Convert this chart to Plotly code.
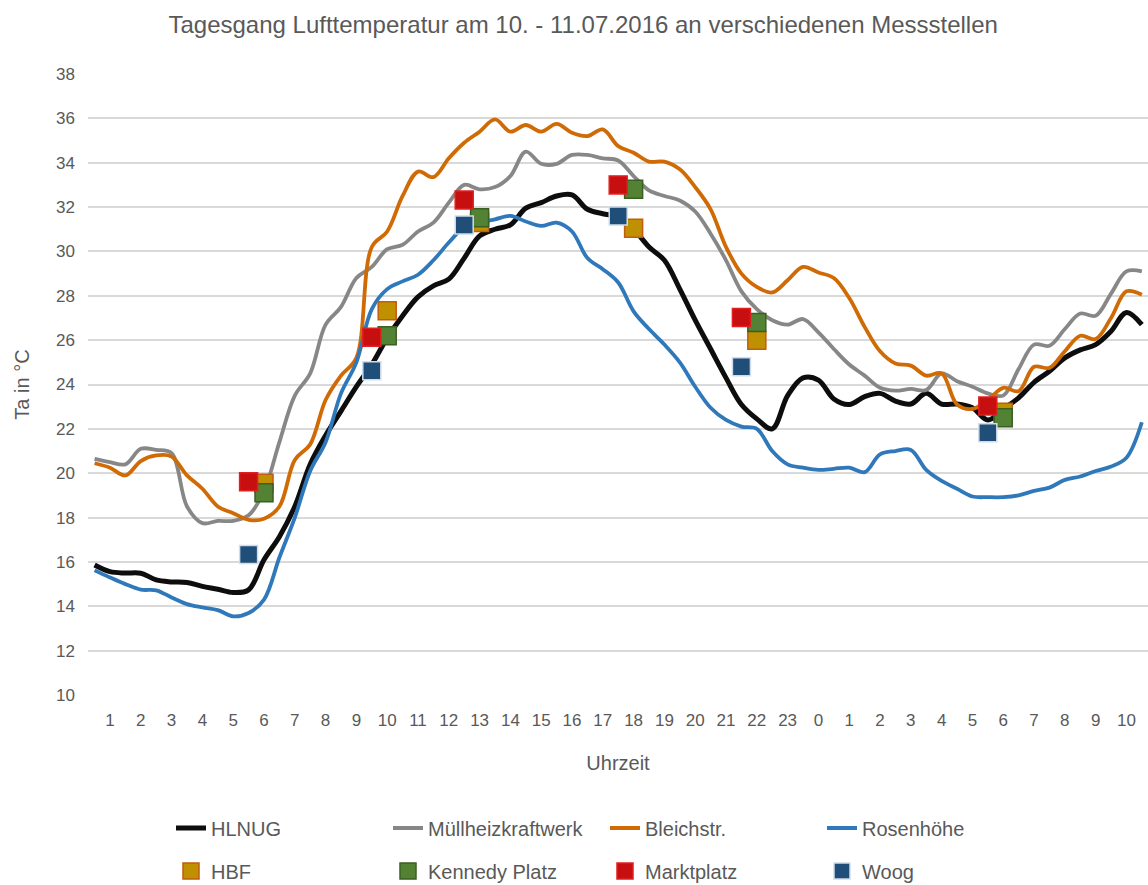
import plotly.graph_objects as go

# time axis: hours since 10.07.2016 00:00 (half-hour samples)
hours = [i / 2 for i in range(1, 70)]

hlnug = [15.86, 15.56, 15.5, 15.49, 15.19, 15.1, 15.07, 14.9, 14.77, 14.62, 14.74, 16.1,
         17.14, 18.5, 20.4, 21.7, 22.8, 23.9, 24.9, 26.1, 27.1, 27.95, 28.45, 28.75,
         29.7, 30.7, 31.0, 31.2, 31.95, 32.2, 32.5, 32.55, 31.9, 31.7, 31.55, 31.0,
         30.2, 29.6, 28.3, 26.9, 25.6, 24.3, 23.1, 22.45, 22.0, 23.5, 24.3, 24.2,
         23.35, 23.1, 23.45, 23.6, 23.25, 23.12, 23.6, 23.12, 23.12, 22.95, 22.4, 22.9,
         23.4, 24.1, 24.6, 25.2, 25.56, 25.8, 26.4, 27.25, 26.7]
muell = [20.65, 20.5, 20.4, 21.1, 21.05, 20.9, 18.5, 17.75, 17.85, 17.85, 18.1, 19.2,
         21.4, 23.5, 24.5, 26.7, 27.5, 28.8, 29.3, 30.1, 30.3, 30.9, 31.3, 32.2,
         33.0, 32.8, 32.9, 33.4, 34.5, 33.95, 33.95, 34.35, 34.35, 34.2, 34.1, 33.4,
         32.75, 32.5, 32.3, 31.8, 30.8, 29.6, 28.2, 27.4, 26.9, 26.7, 26.95, 26.35,
         25.6, 24.9, 24.4, 23.85, 23.72, 23.8, 23.75, 24.5, 24.15, 23.9, 23.6, 23.5,
         24.7, 25.8, 25.75, 26.5, 27.2, 27.1, 28.1, 29.1, 29.1]
bleich = [20.45, 20.25, 19.9, 20.55, 20.8, 20.75, 19.9, 19.3, 18.5, 18.2, 17.9, 17.95,
          18.5, 20.6, 21.3, 23.3, 24.4, 25.2, 30.2, 30.9, 32.5, 33.6, 33.35, 34.2,
          34.9, 35.4, 35.95, 35.4, 35.7, 35.4, 35.75, 35.35, 35.2, 35.5, 34.75, 34.45,
          34.05, 34.05, 33.7, 32.9, 31.9, 30.2, 29.0, 28.4, 28.15, 28.7, 29.3, 29.05,
          28.8, 27.9, 26.6, 25.5, 24.95, 24.85, 24.4, 24.5, 23.1, 22.9, 23.3, 23.85,
          23.7, 24.8, 24.75, 25.5, 26.2, 26.05, 27.0, 28.2, 28.05]
rosen = [15.62, 15.3, 15.0, 14.75, 14.72, 14.4, 14.1, 13.95, 13.83, 13.55, 13.7, 14.3,
         16.2, 18.0, 20.1, 21.4, 23.6, 25.0, 27.4, 28.3, 28.65, 28.95, 29.6, 30.4,
         31.1, 31.3, 31.45, 31.6, 31.35, 31.15, 31.3, 30.9, 29.7, 29.2, 28.6, 27.3,
         26.5, 25.8, 25.0, 23.9, 22.95, 22.4, 22.1, 22.0, 21.0, 20.4, 20.25, 20.15,
         20.2, 20.25, 20.05, 20.85, 21.0, 21.05, 20.15, 19.65, 19.3, 18.95, 18.92, 18.92,
         19.0, 19.2, 19.35, 19.7, 19.85, 20.1, 20.3, 20.7, 22.3]

# point measurements
t_a = [5.5, 9.5, 12.5, 17.5, 21.5, 29.5]   # Marktplatz, Woog
t_b = [6, 10, 13, 18, 22, 30]              # HBF, Kennedy Platz
hbf = [19.55, 27.33, 31.3, 31.04, 26.0, 22.75]
kennedy = [19.12, 26.2, 31.52, 32.8, 26.8, 22.5]
markt = [19.62, 26.13, 32.32, 33.0, 27.02, 23.03]
woog = [16.34, 24.62, 31.19, 31.6, 24.8, 21.83]

tick_vals = list(range(1, 35))
tick_text = [str(h % 24) for h in tick_vals]

FONT = "Liberation Sans, Arial, sans-serif"
TXT = "#595959"

fig = go.Figure()
lines = [("HLNUG", hlnug, "#0d0d0d", 5),
         ("Müllheizkraftwerk", muell, "#878787", 3.8),
         ("Bleichstr.", bleich, "#d06a05", 3.8),
         ("Rosenhöhe", rosen, "#2f78b9", 3.8)]
for name, vals, col, w in lines:
    fig.add_trace(go.Scatter(x=hours, y=vals, name=name, mode="lines",
                             line=dict(color=col, width=w, shape="spline", smoothing=1.0),
                             legend="legend"))

pts = [("HBF", t_b, hbf, "#bf9000", "#c55a11"),
       ("Kennedy Platz", t_b, kennedy, "#548235", "#3a5f23"),
       ("Marktplatz", t_a, markt, "#c80f0f", "#e02020"),
       ("Woog", t_a, woog, "#1f4e79", "#d0dcea")]
for name, tx, vals, fill, edge in pts:
    fig.add_trace(go.Scatter(x=tx, y=vals, name=name, mode="markers",
                             marker=dict(symbol="square", size=18, color=fill,
                                         line=dict(color=edge, width=1.5)),
                             legend="legend2"))

fig.update_layout(
    width=1148, height=885,
    paper_bgcolor="white", plot_bgcolor="white",
    margin=dict(l=88, r=0, t=74, b=190, autoexpand=False),
    font=dict(family=FONT, color=TXT, size=18),
    title=dict(text="Tagesgang Lufttemperatur am 10. - 11.07.2016 an verschiedenen Messstellen",
               x=0.508, xanchor="center", y=1 - 25 / 885, yanchor="middle",
               font=dict(size=24, color=TXT)),
    xaxis=dict(range=[0.286, 34.70], tickmode="array", tickvals=tick_vals, ticktext=tick_text,
               showgrid=False, zeroline=False, showline=False, ticks="", tickangle=0,
               tickfont=dict(size=17, color=TXT), ticklabelstandoff=13,
               title=dict(text="Uhrzeit", font=dict(size=20, color=TXT), standoff=26)),
    yaxis=dict(range=[10, 38], dtick=2, showgrid=True, gridcolor="#d9d9d9", gridwidth=1.5,
               zeroline=False, showline=False, ticks="",
               tickfont=dict(size=17, color=TXT), ticklabelstandoff=12,
               title=dict(text="Ta in °C", font=dict(size=20, color=TXT), standoff=21)),
    legend=dict(orientation="h", xref="paper", x=(171 - 88) / 1060, xanchor="left",
                yref="container", y=1 - 828 / 885, yanchor="middle", entrywidth=172,
                font=dict(size=20, color=TXT), bgcolor="rgba(0,0,0,0)"),
    legend2=dict(orientation="h", xref="paper", x=(171 - 88) / 1060, xanchor="left",
                 yref="container", y=1 - 871 / 885, yanchor="middle", entrywidth=172,
                 font=dict(size=20, color=TXT), bgcolor="rgba(0,0,0,0)"),
    showlegend=True,
)

fig.write_html("out.html", config={"displayModeBar": False},
               post_script="document.body.style.margin='0';")
